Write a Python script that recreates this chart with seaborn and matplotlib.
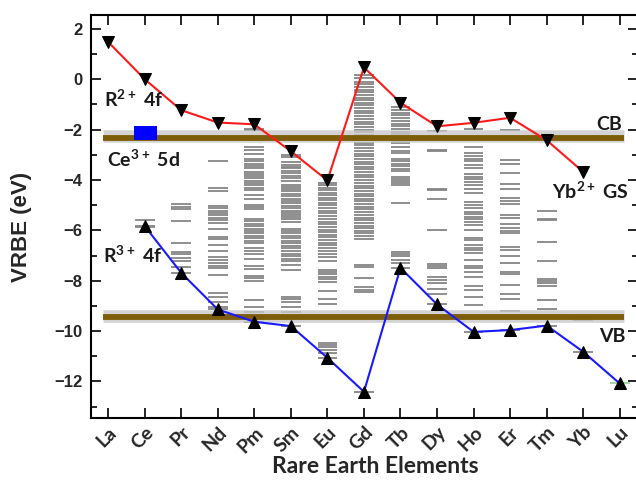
import matplotlib
matplotlib.use("Agg")
import matplotlib.pyplot as plt
from matplotlib.patches import Rectangle
from matplotlib.ticker import MultipleLocator
import pandas as pd
import seaborn as sns

# Lanthanide series on the x axis
elements = ["La", "Ce", "Pr", "Nd", "Pm", "Sm", "Eu", "Gd", "Tb",
            "Dy", "Ho", "Er", "Tm", "Yb", "Lu"]

# Ground-state 4f energies of the divalent ions (La ... Yb), eV
r2_elements = elements[:14]
r2_4f = [1.48, 0.0, -1.23, -1.72, -1.79, -2.86, -4.02, 0.47, -0.93,
         -1.87, -1.73, -1.53, -2.42, -3.68]

# Ground-state 4f energies of the trivalent ions (Ce ... Lu), eV
r3_elements = elements[1:]
r3_4f = [-5.83, -7.69, -9.14, -9.63, -9.80, -11.06, -12.41, -7.49,
         -8.94, -10.03, -9.96, -9.78, -10.82, -12.08]

# Band edges and the Ce3+ 5d level
cb_bottom = -2.32
vb_top = -9.44
ce_5d = -2.13

# Excited 4f levels of the trivalent ions, eV
levels_ce = [-5.60, -5.86]
levels_pr = [-7.44, -7.22, -7.08, -6.92, -6.86, -6.52, -5.63, -5.16,
             -5.08, -4.96]
levels_nd = [-3.24, -4.30, -4.43, -5.04, -5.13, -5.23, -5.31, -5.40,
             -5.49, -5.60, -5.70, -5.95, -6.28, -6.35, -6.57, -6.81,
             -7.07, -7.18, -7.29, -7.41, -7.51, -7.78, -8.48, -8.64,
             -8.84, -9.03]
levels_pm = [-1.96, -2.02, -2.42, -2.69, -2.79, -2.95, -3.17, -3.25,
             -3.35, -3.44, -3.52, -3.68, -3.76, -3.85, -3.94, -4.03,
             -4.11, -4.21, -4.30, -4.39, -4.60, -4.74, -5.00, -5.07,
             -5.16, -5.53, -5.63, -5.73, -5.82, -5.93, -6.03, -6.12,
             -6.22, -6.32, -6.43, -6.52, -6.72, -6.81, -6.92, -7.14,
             -7.41, -7.54, -7.80, -7.91, -8.02, -8.77, -9.03, -9.23,
             -9.47]
levels_sm = [-2.99, -3.08, -3.28, -3.39, -3.48, -3.54, -3.65, -3.74,
             -3.84, -3.94, -4.03, -4.21, -4.29, -4.37, -4.44, -4.54,
             -4.63, -4.74, -4.84, -4.93, -5.03, -5.13, -5.24, -5.33,
             -5.40, -5.46, -5.56, -5.66, -5.93, -6.02, -6.12, -6.22,
             -6.32, -6.43, -6.52, -6.61, -6.72, -6.83, -6.92, -7.01,
             -7.12, -7.22, -7.38, -7.58, -8.64, -8.74, -8.86, -9.03,
             -9.23, -9.43]
levels_eu = [-4.11, -4.21, -4.30, -4.40, -4.51, -4.60, -4.70, -4.80,
             -4.91, -5.01, -5.12, -5.22, -5.33, -5.44, -5.54, -5.65,
             -5.75, -5.86, -5.97, -6.07, -6.18, -6.28, -6.39, -6.49,
             -6.60, -6.72, -6.81, -6.92, -7.05, -7.21, -7.58, -7.66,
             -7.74, -7.84, -7.95, -8.04, -8.40, -8.74, -8.93, -10.46,
             -10.56, -10.65, -10.75, -10.86]
levels_gd = [0.16, 0.03, -0.11, -0.20, -0.30, -0.41, -0.52, -0.62,
             -0.73, -0.83, -0.94, -1.04, -1.15, -1.26, -1.36, -1.47,
             -1.57, -1.68, -1.79, -1.89, -2.00, -2.10, -2.21, -2.31,
             -2.42, -2.53, -2.63, -2.74, -2.84, -2.95, -3.06, -3.16,
             -3.27, -3.37, -3.48, -3.58, -3.69, -3.80, -3.90, -4.01,
             -4.11, -4.22, -4.33, -4.43, -4.54, -4.64, -4.75, -4.85,
             -4.96, -5.07, -5.17, -5.28, -5.38, -5.49, -5.60, -5.70,
             -5.81, -5.91, -6.02, -6.12, -6.23, -6.34, -7.38, -7.47,
             -7.91, -8.24, -8.35, -8.44]
levels_tb = [-1.12, -1.23, -1.34, -1.44, -1.55, -1.65, -1.76, -1.87,
             -1.97, -2.08, -2.18, -2.29, -2.45, -2.55, -2.69, -2.84,
             -2.92, -3.15, -3.24, -3.35, -3.45, -3.56, -3.66, -3.88,
             -3.96, -4.03, -4.11, -4.21, -4.93, -6.85, -6.94, -7.02,
             -7.16, -7.31]
levels_dy = [-2.05, -2.79, -2.84, -4.34, -4.40, -4.75, -5.99, -7.34,
             -7.42, -7.49, -7.87, -7.98, -8.08, -8.32, -8.53]
levels_ho = [-1.98, -2.35, -2.69, -2.91, -3.04, -3.15, -3.25, -3.39,
             -3.54, -3.78, -3.88, -3.97, -4.07, -4.18, -4.37, -4.50,
             -4.87, -5.00, -5.13, -5.26, -5.37, -5.46, -5.56, -5.66,
             -5.79, -5.99, -6.30, -6.39, -6.59, -6.69, -6.79, -6.88,
             -7.18, -7.41, -7.51, -7.65, -7.84, -8.20, -8.37, -8.64,
             -8.97, -9.43]
levels_er = [-2.02, -2.33, -3.21, -3.35, -3.74, -4.14, -4.37, -4.71,
             -4.84, -4.97, -5.40, -5.50, -5.73, -5.90, -6.03, -6.12,
             -6.65, -6.79, -7.01, -7.31, -7.65, -7.75, -8.15, -8.51,
             -8.73, -9.21]
levels_tm = [-5.22, -5.53, -5.60, -6.46, -7.22, -7.95, -8.02, -8.11,
             -8.21, -8.77, -9.14]
levels_yb = [-9.56]

excited = {"Ce": levels_ce, "Pr": levels_pr, "Nd": levels_nd,
           "Pm": levels_pm, "Sm": levels_sm, "Eu": levels_eu,
           "Gd": levels_gd, "Tb": levels_tb, "Dy": levels_dy,
           "Ho": levels_ho, "Er": levels_er, "Tm": levels_tm,
           "Yb": levels_yb, "Lu": []}

pos = {el: i for i, el in enumerate(elements)}
df_r2 = pd.DataFrame({"x": [pos[e] for e in r2_elements], "E": r2_4f})
df_r3 = pd.DataFrame({"x": [pos[e] for e in r3_elements], "E": r3_4f})

sns.set_theme(style="ticks")
plt.rcParams["font.family"] = ["Liberation Sans", "DejaVu Sans"]
plt.rcParams["mathtext.default"] = "regular"
label_font = ["Lato", "DejaVu Sans"]

fig = plt.figure(figsize=(6.36, 4.87), dpi=100)
ax = fig.add_axes([91 / 636, 69 / 487, (638 - 91) / 636, (418 - 15) / 487])

# 4f level ladders (ground state plus excited states)
half = 0.27
for el, ground in zip(r3_elements, r3_4f):
    i = pos[el]
    color = "#9fd49f" if el == "Lu" else "#868686"
    ax.hlines(excited[el] + [ground], i - half, i + half,
              color=color, lw=1.3, zorder=2)

# conduction / valence band edges with a soft halo
for e in (cb_bottom, vb_top):
    ax.hlines(e + 0.05, -0.15, 14.11, color="#c8c8c8", lw=9, alpha=0.8,
              zorder=3)
    ax.hlines(e, -0.15, 14.11, color="#7d5d08", lw=4.2, zorder=4)

# Ce3+ 5d level
ax.add_patch(Rectangle((pos["Ce"] + 0.02 - 0.305, ce_5d - 0.29), 0.61, 0.58,
                       facecolor="#0000ff", edgecolor="none", zorder=6))

sns.lineplot(data=df_r2, x="x", y="E", ax=ax, color="#ff1a1a", lw=1.5,
             marker="v", markersize=8, markerfacecolor="black",
             markeredgecolor="black", sort=False, zorder=7)
sns.lineplot(data=df_r3, x="x", y="E", ax=ax, color="#1a1aff", lw=1.5,
             marker="^", markersize=8, markerfacecolor="black",
             markeredgecolor="black", sort=False, zorder=7)

txt = dict(fontfamily=label_font, fontweight="bold", fontsize=14,
           color="#1a1a1a", zorder=8)
ax.text(-0.12, -0.79, r"R$^{2+}$ 4f", ha="left", va="center", **txt)
ax.text(-0.02, -3.17, r"Ce$^{3+}$ 5d", ha="left", va="center", **txt)
ax.text(-0.15, -7.0, r"R$^{3+}$ 4f", ha="left", va="center", **txt)
ax.text(14.06, -1.80, "CB", ha="right", va="center", **txt)
ax.text(14.25, -4.44, r"Yb$^{2+}$ GS", ha="right", va="center", **txt)
ax.text(14.17, -10.23, "VB", ha="right", va="center", **txt)

ax.set_xlim(-0.47, 14.5)
ax.set_ylim(-13.45, 2.55)
ax.set_xticks(range(len(elements)))
ax.set_xticklabels(elements, rotation=45, ha="right", rotation_mode="anchor",
                   fontfamily=label_font, fontweight="bold", fontsize=14)
ax.yaxis.set_major_locator(MultipleLocator(2))
ax.yaxis.set_minor_locator(MultipleLocator(1))
for lab in ax.get_yticklabels():
    lab.set_fontweight("bold")
    lab.set_fontsize(12)
ax.tick_params(which="both", direction="in", top=True, right=True,
               width=1.2, color="black")
ax.tick_params(which="major", length=7)
ax.tick_params(which="minor", length=4)
ax.tick_params(axis="y", pad=6)
ax.tick_params(axis="x", pad=4)
for s in ax.spines.values():
    s.set_linewidth(1.5)
    s.set_color("black")

ax.set_xlabel("Rare Earth Elements", fontfamily=label_font,
              fontweight="bold", fontsize=16.5)
ax.xaxis.set_label_coords(0.519, -0.094)
ax.set_ylabel("VRBE (eV)", fontweight="bold", fontsize=16)
ax.yaxis.set_label_coords(-0.108, 0.475)

fig.savefig("out.png", dpi=100)
